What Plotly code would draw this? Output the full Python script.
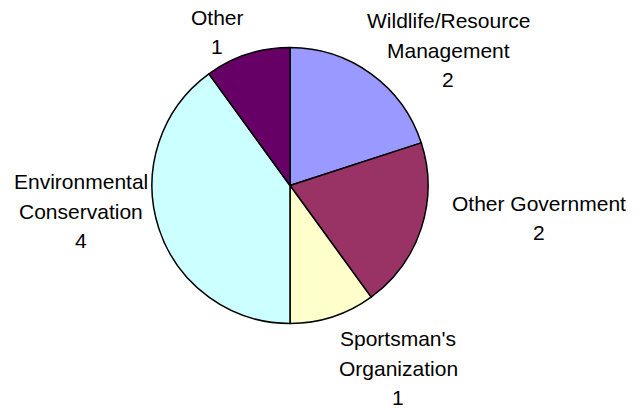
import plotly.graph_objects as go

# Respondent affiliation counts
categories = ["Wildlife/Resource Management", "Other Government",
              "Sportsman's Organization", "Environmental Conservation", "Other"]
counts = [2, 2, 1, 4, 1]
label_lines = [["Wildlife/Resource", "Management"], ["Other Government"],
               ["Sportsman's", "Organization"], ["Environmental", "Conservation"], ["Other"]]

colors = ["#9999FF", "#993366", "#FFFFCC", "#CCFFFF", "#660066"]

W, H = 644, 410
cx, cy, R = 290, 185.5, 138  # pie centre and radius in pixels

# Label block centres in pixels (x from left, y from top)
label_centres = [(448, 50), (539, 218), (398, 368), (81, 211), (217, 32)]
line_gap = 29.5
font = dict(family="Liberation Sans, Arial, sans-serif", size=21, color="#000000")

fig = go.Figure(go.Pie(
    labels=categories,
    values=counts,
    sort=False,
    direction="clockwise",
    rotation=0,
    marker=dict(colors=colors, line=dict(color="#000000", width=1.5)),
    textinfo="none",
    hoverinfo="label+value",
    showlegend=False,
    domain=dict(x=[(cx - R) / W, (cx + R) / W],
                y=[(H - cy - R) / H, (H - cy + R) / H]),
))

annotations = []
for lines, val, (lx, ly) in zip(label_lines, counts, label_centres):
    rows = lines + [str(val)]
    n = len(rows)
    for i, txt in enumerate(rows):
        y_px = ly + (i - (n - 1) / 2) * line_gap
        annotations.append(dict(
            text=txt, x=lx / W, y=1 - y_px / H, xref="paper", yref="paper",
            xanchor="center", yanchor="middle", showarrow=False, font=font,
        ))

fig.update_layout(
    width=W, height=H,
    margin=dict(l=0, r=0, t=0, b=0),
    paper_bgcolor="#FFFFFF",
    plot_bgcolor="#FFFFFF",
    annotations=annotations,
)

fig.write_html("out.html")
